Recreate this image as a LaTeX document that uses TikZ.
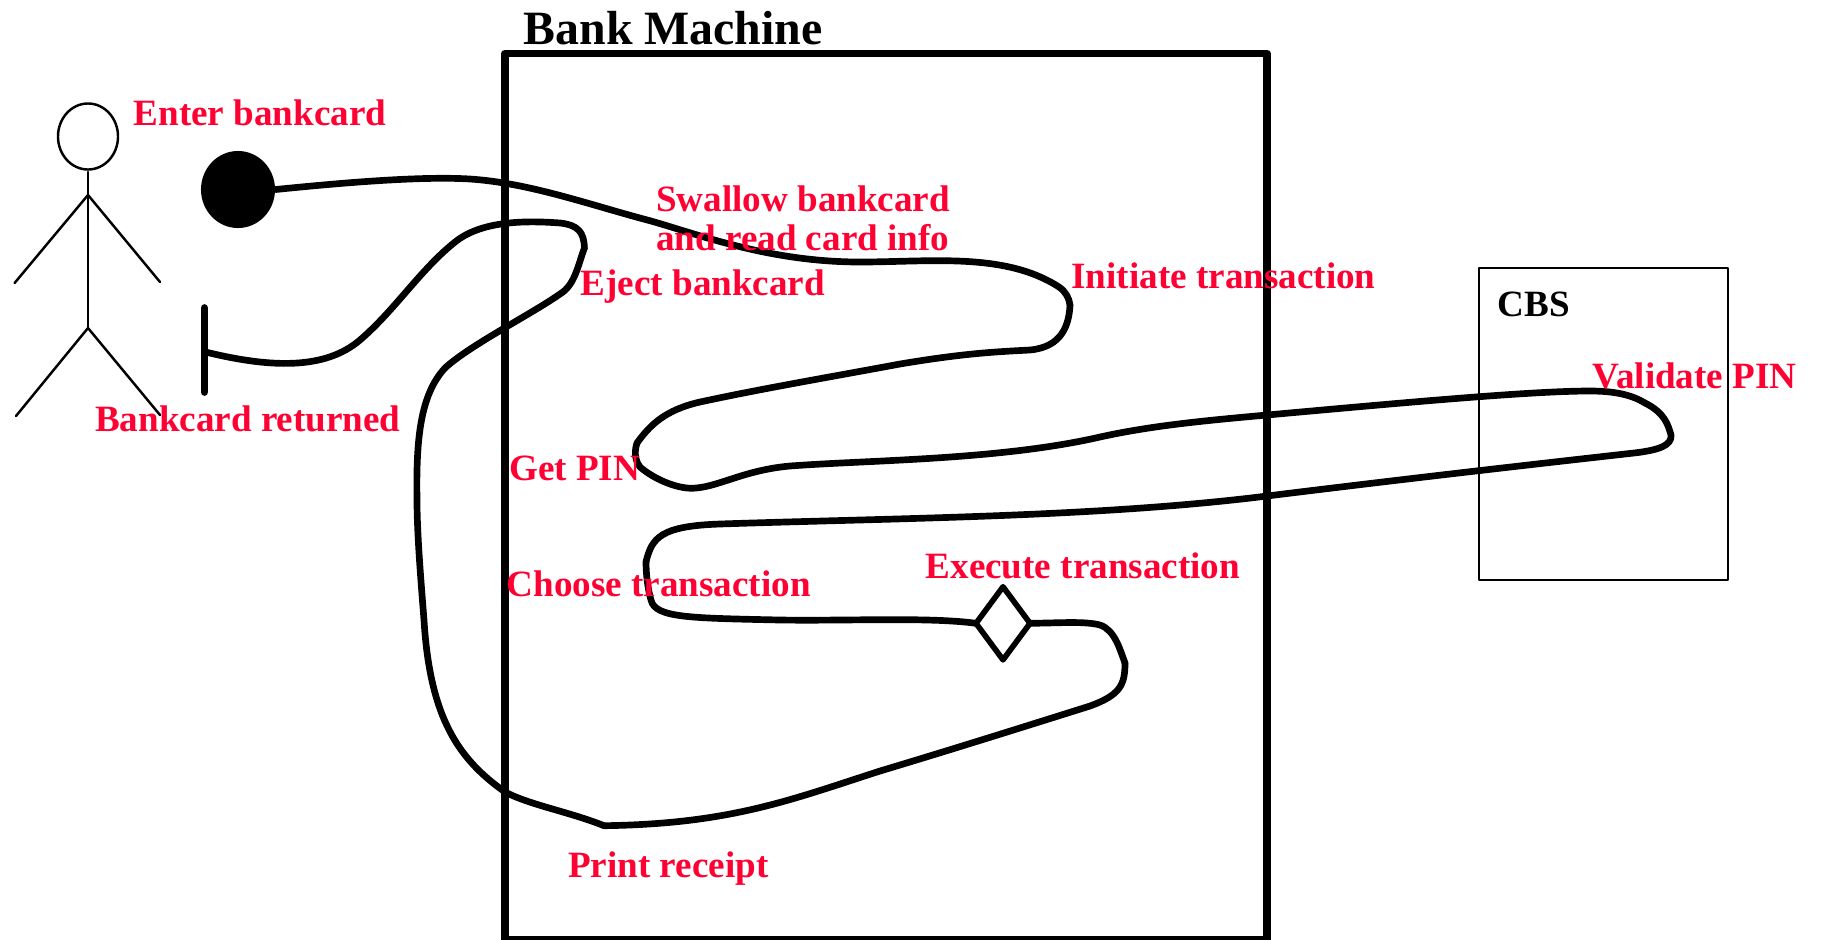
\documentclass[tikz,border=0pt]{standalone}
\usepackage{fontspec}
\setmainfont{Liberation Serif}
\usetikzlibrary{shapes.geometric}
\definecolor{labelred}{HTML}{FF0033}
\tikzset{
	actorline/.style={line width=0.7pt},
	flowline/.style={line width=1.9pt},
	boxlabel/.style={anchor=base west, inner sep=0pt, font=\fontsize{10.55}{12}\selectfont\bfseries},
	steplabel/.style={boxlabel, text=labelred},
}
\begin{document}
\begin{tikzpicture}[x=0.01cm, y=-0.01cm, line join=round, line cap=round]
	\useasboundingbox (0,0) rectangle (1822,939);
	\path
	(505,53.3) coordinate (BankTL)
	(1267,940) coordinate (BankBR)
	(1479,267.7) coordinate (CbsTL)
	(1728,579.7) coordinate (CbsBR)
	(88,172) coordinate (Neck)
	(88,195) coordinate (Shoulder)
	(88,328) coordinate (Hip)
	(14.6,283) coordinate (HandL)
	(160,282) coordinate (HandR)
	(16,416) coordinate (FootL)
	(160,415) coordinate (FootR)
	(204.4,308) coordinate (BarTop)
	(204.4,392) coordinate (BarBot)
	(204.4,351.7) coordinate (Stop)
	(584.4,248) coordinate (Eject)
	(1070,305) coordinate (Initiate)
	(637,443) coordinate (GetPin)
	(1645,403) coordinate (Validate)
	(646,561.7) coordinate (Choose)
	(1125,663) coordinate (Execute)
	(604,825.7) coordinate (Print);
	\node[ellipse, draw, actorline, inner sep=0pt, minimum width=0.6cm, minimum height=0.66cm] (Head) at (88,136.5) {};
	\node[ellipse, fill=black, inner sep=0pt, minimum width=0.74cm, minimum height=0.77cm] (Start) at (238,189.5) {};
	\node[diamond, draw, line width=1.6pt, inner sep=0pt, outer sep=0pt, minimum width=0.54cm, minimum height=0.73cm] (Check) at (1003,623.3) {};
	\draw[line width=2.05pt] (BankTL) rectangle (BankBR);
	\draw[line width=0.6pt] (CbsTL) rectangle (CbsBR);
	\draw[actorline] (Neck)--(Hip);
	\foreach \i in {HandL,HandR}{\draw[actorline] (Shoulder)--(\i);}
	\foreach \i in {FootL,FootR}{\draw[actorline] (Hip)--(\i);}
	\draw[line width=2.2pt] (BarTop)--(BarBot);
	\draw[flowline] (Start.east) .. controls (340,183) and (420,176) .. (470,179) .. controls (530,183) and (590,205) .. (651,221) .. controls (700,235) and (770,262) .. (860,262) .. controls (930,262) and (1005,252) .. (1059,287) .. controls (1066,292) and (1069,298) .. (Initiate);
	\draw[flowline] (Initiate) .. controls (1069,325) and (1062,347) .. (1030,350) .. controls (990,352) and (960,354) .. (900,364) .. controls (830,377) and (760,389) .. (700,402) .. controls (665,410) and (650,425) .. (GetPin);
	\draw[flowline] (GetPin) .. controls (633,455) and (637,463) .. (640,467) .. controls (655,480) and (680,490) .. (696,488) .. controls (720,486) and (745,470) .. (790,466) .. controls (870,460) and (1000,460) .. (1100,437) .. controls (1150,426) and (1200,421) .. (1267,415) .. controls (1400,403) and (1530,391) .. (1590,391) .. controls (1615,391) and (1632,395) .. (Validate);
	\draw[flowline] (Validate) .. controls (1665,413) and (1668,425) .. (1671,435) .. controls (1672,445) and (1660,450) .. (1634,453) .. controls (1500,468) and (1380,482) .. (1267,496) .. controls (1100,517) and (900,518) .. (720,524) .. controls (660,526) and (652,538) .. (Choose);
	\draw[flowline] (Choose) .. controls (646,575) and (648,590) .. (651,600) .. controls (655,618) and (690,618) .. (780,620) .. controls (850,621) and (930,617) .. (Check.west);
	\draw[flowline] (Check.east) .. controls (1060,623) and (1085,621) .. (1100,625) .. controls (1115,630) and (1120,650) .. (Execute);
	\draw[flowline] (Execute) .. controls (1125,685) and (1120,695) .. (1090,706) .. controls (1020,728) and (950,750) .. (880,771) .. controls (790,800) and (730,824) .. (Print);
	\draw[flowline] (Print) .. controls (570,812) and (530,805) .. (505,792) .. controls (460,760) and (430,720) .. (424,620) .. controls (420,570) and (417,530) .. (417,500) .. controls (416,440) and (420,395) .. (445,368) .. controls (470,345) and (530,315) .. (560,294) .. controls (575,285) and (578,265) .. (Eject);
	\draw[flowline] (Eject) .. controls (584,232) and (578,225) .. (560,223) .. controls (520,220) and (480,222) .. (455,242) .. controls (420,270) and (395,310) .. (360,340) .. controls (325,370) and (270,368) .. (Stop);
	\path
	(523,44) node[boxlabel, font=\fontsize{13.6}{16}\selectfont\bfseries] (BankName) {Bank Machine}
	(1497,316) node[boxlabel] (CbsName) {CBS}
	(133,125) node[steplabel] (EnterLabel) {Enter bankcard}
	(94.5,431.7) node[steplabel] (ReturnedLabel) {Bankcard returned}
	(655.5,211.5) node[steplabel] (SwallowLabel) {Swallow bankcard}
	(655.5,250) node[steplabel] (ReadLabel) {and read card info}
	(580,295) node[steplabel] (EjectLabel) {Eject bankcard}
	(1070.8,288.5) node[steplabel] (InitiateLabel) {Initiate transaction}
	(1592,388.5) node[steplabel] (ValidateLabel) {Validate PIN}
	(508.5,480) node[steplabel] (GetPinLabel) {Get PIN}
	(506,596) node[steplabel] (ChooseLabel) {Choose transaction}
	(925,578) node[steplabel] (ExecuteLabel) {Execute transaction}
	(567.5,877) node[steplabel] (PrintLabel) {Print receipt};
\end{tikzpicture}
\end{document}
